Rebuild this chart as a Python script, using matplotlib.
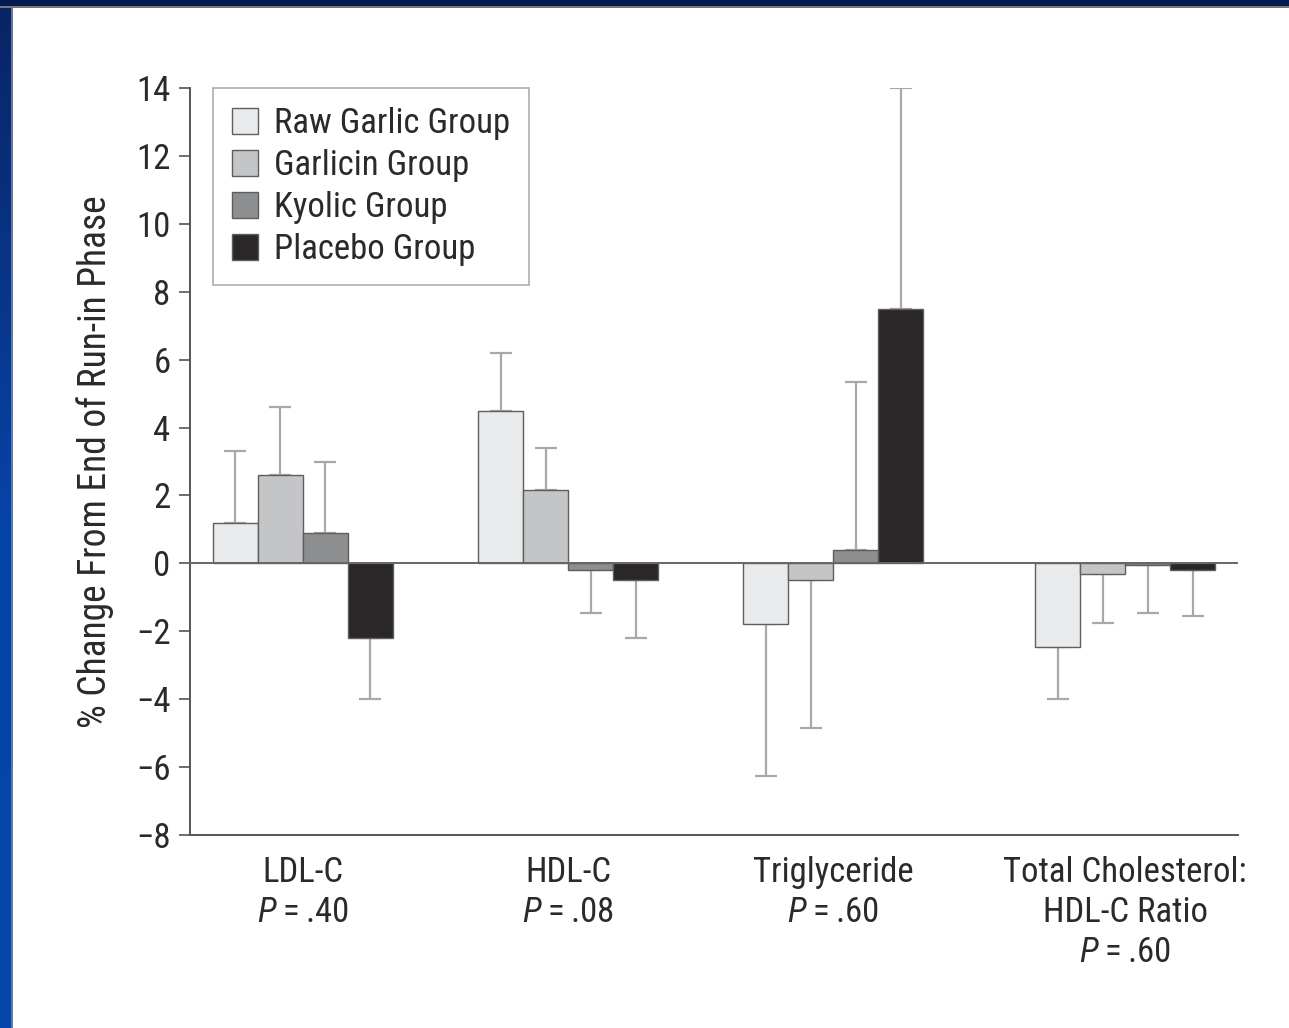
import numpy as np
import matplotlib
matplotlib.use("Agg")
import matplotlib.pyplot as plt
from matplotlib import font_manager
from matplotlib.colors import LinearSegmentedColormap
from matplotlib.patches import Patch, Rectangle

# pick a condensed sans if present
FONT = "DejaVu Sans"
for cand in ["Roboto Condensed", "Archivo Narrow", "Liberation Sans Narrow", "Liberation Sans"]:
    try:
        font_manager.findfont(cand, fallback_to_default=False)
        FONT = cand
        break
    except ValueError:
        continue

plt.rcParams["font.family"] = [FONT, "DejaVu Sans"]
plt.rcParams["mathtext.fontset"] = "custom"
plt.rcParams["mathtext.rm"] = FONT
plt.rcParams["mathtext.it"] = f"{FONT}:italic"

groups = ["Raw Garlic Group", "Garlicin Group", "Kyolic Group", "Placebo Group"]
measures = ["LDL-C", "HDL-C", "Triglyceride", "Total Cholesterol:\nHDL-C Ratio"]
p_values = [".40", ".08", ".60", ".60"]

# % change per measure (rows follow groups)
raw_garlic = [1.2, 4.5, -1.8, -2.45]
garlicin = [2.6, 2.15, -0.5, -0.3]
kyolic = [0.9, -0.2, 0.4, -0.05]
placebo = [-2.2, -0.5, 7.5, -0.2]

# standard errors, drawn away from zero only
raw_garlic_se = [2.1, 1.7, 4.45, 1.55]
garlicin_se = [2.0, 1.25, 4.35, 1.45]
kyolic_se = [2.1, 1.25, 4.95, 1.4]
placebo_se = [1.8, 1.7, 6.5, 1.35]

bar_colors = ["#e9eaeb", "#c4c5c7", "#8d8e90", "#2b2728"]

values = [raw_garlic, garlicin, kyolic, placebo]
errors = [raw_garlic_se, garlicin_se, kyolic_se, placebo_se]

fig = plt.figure(figsize=(12.89, 10.28), dpi=100)
fig.patch.set_facecolor("white")

# blue slide frame: left gradient strip and top bar
strip = fig.add_axes([0, 0, 11 / 1289, 1])
grad = np.linspace(0, 1, 256).reshape(-1, 1)
strip.imshow(grad, aspect="auto", origin="upper", extent=[0, 1, 0, 1],
             cmap=LinearSegmentedColormap.from_list("frame", ["#0a2464", "#0743a6", "#0645ab"]))
strip.axis("off")
fig.add_artist(Rectangle((0, 1 - 6 / 1028), 1, 6 / 1028, transform=fig.transFigure,
                         facecolor="#021a52", edgecolor="none", zorder=5))
fig.add_artist(Rectangle((0, 1 - 7.5 / 1028), 1, 1.5 / 1028, transform=fig.transFigure,
                         facecolor="#777777", edgecolor="none", zorder=5))
fig.add_artist(Rectangle((11 / 1289, 0), 1.5 / 1289, 1 - 6 / 1028, transform=fig.transFigure,
                         facecolor="#777777", edgecolor="none", zorder=5))

ax = fig.add_axes([190 / 1289, 1 - 835 / 1028, 1048 / 1289, 747 / 1028])

group_centers = np.array([2.51, 8.40, 14.29, 20.78])
bar_w = 1.0
offsets = np.array([-1.5, -0.5, 0.5, 1.5]) * bar_w

for i, (vals, errs, col) in enumerate(zip(values, errors, bar_colors)):
    vals = np.array(vals)
    errs = np.array(errs)
    x = group_centers + offsets[i]
    ax.bar(x, vals, width=bar_w, color=col, edgecolor="#5e5e5e", linewidth=1.0,
           zorder=3, label=groups[i])
    lower = np.where(vals < 0, errs, 0)
    upper = np.where(vals >= 0, errs, 0)
    ax.errorbar(x, vals, yerr=[lower, upper], fmt="none", ecolor="#a8a8a8",
                elinewidth=1.6, capsize=8, capthick=1.6, zorder=2)

ax.axhline(0, color="#666666", linewidth=1.4, zorder=4)

ax.set_xlim(0, 1048 / 45)
ax.set_ylim(-8, 14)
ax.set_yticks(np.arange(-8, 15, 2))
ax.set_yticklabels([f"{v:d}".replace("-", "\u2212") for v in range(-8, 15, 2)])

ax.set_xticks(group_centers)
ax.set_xticklabels([f"{m}\n$P$\u2009=\u2009{p}" for m, p in zip(measures, p_values)],
                   linespacing=1.28)
ax.tick_params(axis="x", length=0, pad=15, labelsize=25, labelcolor="#2a2a2a")
ax.tick_params(axis="y", length=8, width=1.2, pad=6, labelsize=25, labelcolor="#2a2a2a",
               color="#555555")

for spine in ["top", "right"]:
    ax.spines[spine].set_visible(False)
for spine in ["left", "bottom"]:
    ax.spines[spine].set_color("#555555")
    ax.spines[spine].set_linewidth(1.4)

fig.text(95 / 1289, 1 - 462 / 1028, "% Change From End of Run-in Phase", rotation=90,
         ha="center", va="center", fontsize=27, color="#2a2a2a")

handles = [Patch(facecolor=c, edgecolor="#5e5e5e", linewidth=1.0) for c in bar_colors]
leg = ax.legend(handles, groups, loc="upper left", bbox_to_anchor=(0.022, 1.0),
                borderaxespad=0, fontsize=25, frameon=True, fancybox=False,
                handlelength=0.75, handleheight=0.75, handletextpad=0.45,
                labelspacing=0.26, borderpad=0.55)
leg.get_frame().set_edgecolor("#999999")
leg.get_frame().set_linewidth(1.2)
for t in leg.get_texts():
    t.set_color("#2a2a2a")

fig.savefig("out.png", dpi=100)
